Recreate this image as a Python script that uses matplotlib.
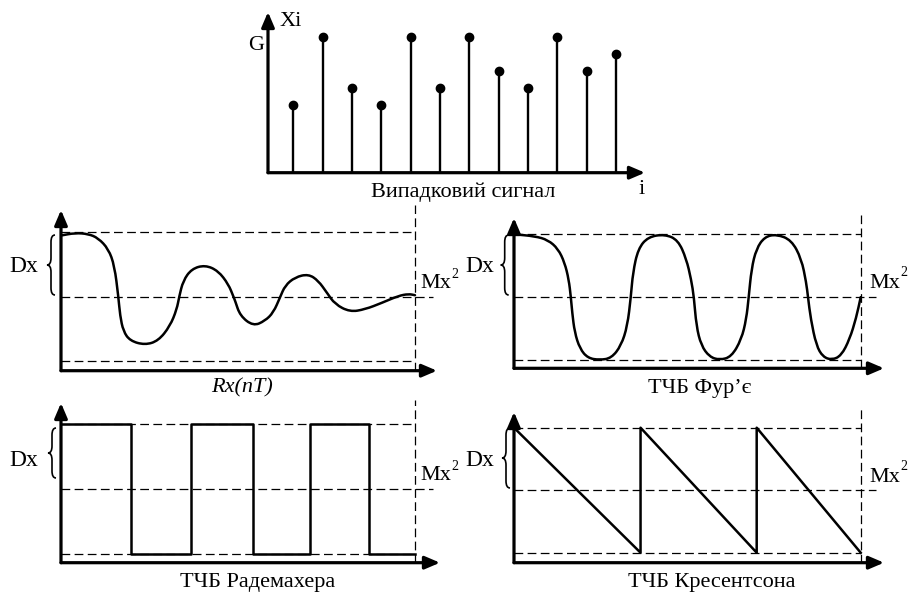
import numpy as np
import matplotlib.pyplot as plt
from matplotlib.path import Path
from matplotlib.patches import PathPatch

plt.rcParams['font.family'] = ['Liberation Serif', 'DejaVu Serif']
plt.rcParams['mathtext.fontset'] = 'stix'

W, H = 908, 592

# random signal (stems)
stem_idx = np.arange(1, 13)
stem_val = [4, 8, 5, 4, 8, 5, 8, 6, 5, 8, 6, 7]

# Rx(nT) - damped correlation curve
rx_t = [0, 0.40, 0.77, 1.05, 1.34, 1.51, 1.62, 1.67, 1.76, 1.95,
        2.37, 2.75, 3.08, 3.27, 3.34, 3.45, 3.69, 4.07, 4.44, 4.73,
        4.87, 4.92, 5.06, 5.43, 5.76, 6.00, 6.19, 6.33, 6.61, 6.99,
        7.27, 7.51, 7.74, 8.16, 8.59, 9.06, 9.53, 9.82, 10.0]
rx_v = [0.95, 0.99, 0.975, 0.91, 0.74, 0.48, 0, -0.30, -0.54, -0.69,
        -0.755, -0.69, -0.46, -0.20, 0, 0.245, 0.43, 0.49, 0.40, 0.19,
        0, -0.07, -0.30, -0.46, -0.38, -0.25, -0.01, 0.17, 0.30, 0.35,
        0.245, 0.06, -0.12, -0.24, -0.20, -0.10, 0.01, 0.04, 0.02]

# Fourier basis
fu_t = [0, 0.60, 0.98, 1.27, 1.46, 1.58, 1.64, 1.68, 1.75, 1.90,
        2.13, 2.47, 2.81, 3.09, 3.27, 3.37, 3.43, 3.58, 3.87, 4.35,
        4.73, 4.97, 5.11, 5.19, 5.26, 5.40, 5.64, 5.93, 6.27, 6.56,
        6.70, 6.77, 6.85, 6.99, 7.23, 7.57, 8.00, 8.29, 8.43, 8.48,
        8.56, 8.72, 8.91, 9.17, 9.44, 9.68, 9.87, 10.0]
fu_v = [1.0, 0.97, 0.91, 0.77, 0.55, 0.28, 0, -0.25, -0.56, -0.82,
        -0.97, -1.0, -0.97, -0.77, -0.46, 0, 0.39, 0.77, 0.96, 1.0,
        0.91, 0.61, 0.28, 0, -0.46, -0.77, -0.95, -1.0, -0.95, -0.67,
        -0.35, 0, 0.45, 0.77, 0.96, 1.0, 0.91, 0.61, 0.23, 0,
        -0.35, -0.77, -0.95, -1.0, -0.93, -0.67, -0.33, 0]

# Rademacher (steps)
rad_t = [0, 1.98, 3.67, 5.42, 7.03, 8.70, 10]
rad_v = [1, -1, 1, -1, 1, -1, -1]

# Kresentson (sawtooth)
kr_t = [0, 3.65, 3.65, 7.0, 7.0, 10]
kr_v = [1, -1, 1, -1, 1, -1]

fig = plt.figure(figsize=(W / 100, H / 100), dpi=100)

AX_LW = 2.3
CURVE_LW = 1.8
DASH = dict(color='k', lw=0.9, ls=(0, (7, 3.5)), clip_on=False)
ARROW = dict(arrowstyle='-|>,head_length=0.75,head_width=0.32', lw=AX_LW,
             color='k', shrinkA=0, shrinkB=0, mutation_scale=12)


def axis_arrows(ax):
    x0, x1 = ax.get_xlim()
    y0, y1 = ax.get_ylim()
    ax.annotate('', xy=(x1, y0), xytext=(x0, y0), arrowprops=ARROW,
                annotation_clip=False)
    ax.annotate('', xy=(x0, y1), xytext=(x0, y0), arrowprops=ARROW,
                annotation_clip=False)


def smooth_curve(ax, xs, ys):
    # quadratic bezier through midpoints, read points act as control points
    pts = list(zip(xs, ys))
    verts = [pts[0]]
    codes = [Path.MOVETO]
    mid = lambda a, b: ((a[0] + b[0]) / 2, (a[1] + b[1]) / 2)
    verts.append(mid(pts[0], pts[1]))
    codes.append(Path.LINETO)
    for i in range(1, len(pts) - 1):
        verts += [pts[i], mid(pts[i], pts[i + 1])]
        codes += [Path.CURVE3, Path.CURVE3]
    verts.append(pts[-1])
    codes.append(Path.LINETO)
    ax.add_patch(PathPatch(Path(verts, codes), fill=False, lw=CURVE_LW,
                           color='k', capstyle='round', joinstyle='round'))


def wave_axes(x0, xv, xtip, top, bot, xaxis_px, ytip_px, vtop_px, mid_end_px):
    sx = 10 / (xv - x0)

    def yv(p):
        return 1 - 2 * (p - top) / (bot - top)

    ax = fig.add_axes([x0 / W, 1 - xaxis_px / H, (xtip - x0) / W,
                       (xaxis_px - ytip_px) / H])
    ax.set_xlim(0, (xtip - x0) * sx)
    ax.set_ylim(yv(xaxis_px), yv(ytip_px))
    ax.axis('off')
    ax.hlines([1, -1], 0, 10, **DASH)
    ax.hlines(0, 0, (mid_end_px - x0) * sx, **DASH)
    ax.vlines(10, yv(xaxis_px), yv(vtop_px), **DASH)
    axis_arrows(ax)
    return ax


# top panel: random signal
ax0 = fig.add_axes([268 / W, 1 - 172.7 / H, (645 - 268) / W, (172.7 - 12) / H])
ax0.set_xlim(0.138, 12.99)
ax0.set_ylim(0, 9.49)
ax0.axis('off')
ax0.vlines(stem_idx, 0, stem_val, color='k', lw=1.7)
ax0.plot(stem_idx, stem_val, 'o', color='k', ms=6, clip_on=False)
axis_arrows(ax0)

# middle left: Rx(nT)
ax1 = wave_axes(61, 415, 437, 232.3, 360.7, 370.7, 210, 205, 433)
smooth_curve(ax1, rx_t, rx_v)

# middle right: Fourier
ax2 = wave_axes(514, 860.7, 884, 234.3, 360, 368.3, 218, 215, 876)
smooth_curve(ax2, fu_t, fu_v)

# bottom left: Rademacher
ax3 = wave_axes(61, 415, 440, 424.3, 554.3, 562.7, 403, 400, 433)
ax3.plot(rad_t, rad_v, color='k', lw=CURVE_LW, drawstyle='steps-post')

# bottom right: Kresentson
ax4 = wave_axes(514, 860.7, 884, 427.7, 552.7, 562.7, 412, 407, 876)
ax4.plot(kr_t, kr_v, color='k', lw=CURVE_LW)

# overlay in pixel coordinates for labels and braces
ov = fig.add_axes([0, 0, 1, 1])
ov.set_xlim(0, W)
ov.set_ylim(H, 0)
ov.axis('off')


def brace(x, y0, y1, w=8):
    ym = (y0 + y1) / 2
    xs = x + w / 2
    r = 7
    verts = [(x + w, y0), (xs, y0), (xs, y0 + r), (xs, ym - r),
             (xs, ym), (x, ym), (xs, ym), (xs, ym + r), (xs, y1 - r),
             (xs, y1), (x + w, y1)]
    codes = [Path.MOVETO, Path.CURVE3, Path.CURVE3, Path.LINETO,
             Path.CURVE3, Path.CURVE3, Path.CURVE3, Path.CURVE3, Path.LINETO,
             Path.CURVE3, Path.CURVE3]
    ov.add_patch(PathPatch(Path(verts, codes), fill=False, lw=1.2, color='k'))


brace(47, 235, 295)
brace(500.7, 235, 295)
brace(48, 428, 478)
brace(502, 428, 488)

FS = 16
ov.text(280, 22, 'Xi', fontsize=FS, va='center', ha='left')
ov.text(256, 46, 'G', fontsize=FS, va='center', ha='center')
ov.text(463, 192, 'Випадковий сигнал', fontsize=FS, va='center', ha='center')
ov.text(642, 189, 'i', fontsize=FS, va='center', ha='center')

for x, y in [(24, 267), (480, 267), (24, 461), (480, 461)]:
    ov.text(x, y, 'Dx', fontsize=17, va='center', ha='center')

for x, y in [(420, 284), (869, 283), (420, 476), (869, 477)]:
    ov.text(x, y, 'Mx', fontsize=FS, va='center', ha='left')
    ov.text(x + 31, y - 10, '2', fontsize=10, va='center', ha='left')

ov.text(242, 388, 'Rx(nT)', fontsize=FS, style='italic', va='center', ha='center')
ov.text(700, 388, 'ТЧБ Фур\u2019є', fontsize=FS, va='center', ha='center')
ov.text(258, 583, 'ТЧБ Радемахера', fontsize=FS, va='center', ha='center')
ov.text(712, 583, 'ТЧБ Кресентсона', fontsize=FS, va='center', ha='center')

fig.savefig('out.png', dpi=100)
